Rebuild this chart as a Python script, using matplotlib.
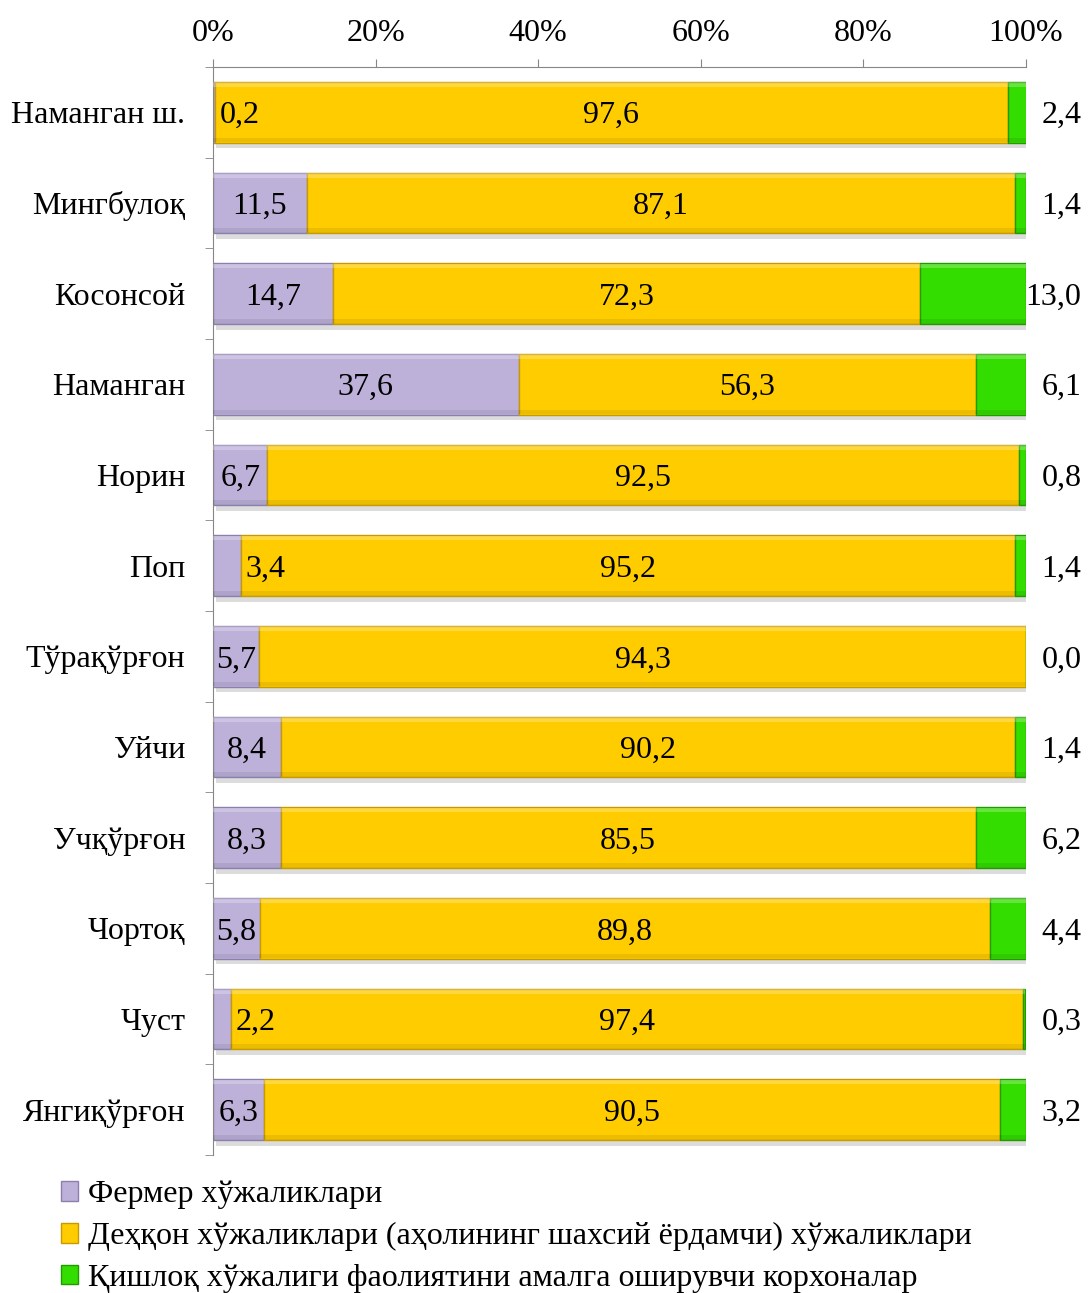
import numpy as np
import matplotlib.pyplot as plt
import matplotlib.patheffects as pe
from matplotlib.patches import Patch
from matplotlib.ticker import FixedLocator

plt.rcParams['font.family'] = ['Liberation Serif', 'DejaVu Serif']

districts = ["Наманган ш.", "Мингбулоқ", "Косонсой", "Наманган", "Норин", "Поп",
             "Тўрақўрғон", "Уйчи", "Учқўрғон", "Чортоқ", "Чуст", "Янгиқўрғон"]
fermer = [0.2, 11.5, 14.7, 37.6, 6.7, 3.4, 5.7, 8.4, 8.3, 5.8, 2.2, 6.3]
dehqon = [97.6, 87.1, 72.3, 56.3, 92.5, 95.2, 94.3, 90.2, 85.5, 89.8, 97.4, 90.5]
korxona = [2.4, 1.4, 13.0, 6.1, 0.8, 1.4, 0.0, 1.4, 6.2, 4.4, 0.3, 3.2]
legend_names = ["Фермер хўжаликлари",
                "Деҳқон хўжаликлари (аҳолининг шахсий ёрдамчи) хўжаликлари",
                "Қишлоқ хўжалиги фаолиятини амалга оширувчи корхоналар"]
colors = ["#BDB1DA", "#FFCC00", "#33DD00"]
edges = ["#8C7FAE", "#C79A00", "#229A00"]

fig = plt.figure(figsize=(10.88, 12.93), dpi=100)
ax = fig.add_axes([0.1958, 0.1067, 0.7472, 0.8415])

y = np.arange(len(districts))
h = 0.67
lefts = np.zeros(len(districts))
shadow = [pe.SimplePatchShadow(offset=(2, -4), shadow_rgbFace="0.55", alpha=0.3), pe.Normal()]
for vals, c, ec in zip([fermer, dehqon, korxona], colors, edges):
    vals = np.array(vals)
    bars = ax.barh(y, vals, left=lefts, height=h, color=c, edgecolor=ec, linewidth=1.0, zorder=2)
    for b in bars:
        b.set_path_effects(shadow)
    # bevel: light top strip, dark bottom strip
    ax.barh(y - h / 2 + 0.03, vals, left=lefts, height=0.05, color="white", alpha=0.25,
            linewidth=0, zorder=3)
    ax.barh(y + h / 2 - 0.03, vals, left=lefts, height=0.05, color="black", alpha=0.08,
            linewidth=0, zorder=3)
    lefts = lefts + vals

fs = 23
lab = lambda v: f"{v:.1f}".replace(".", ",")
for i in range(len(districts)):
    f, d, k = fermer[i], dehqon[i], korxona[i]
    if f < 4:
        ax.text(f + 0.6, y[i], lab(f), ha="left", va="center_baseline", fontsize=fs, zorder=5)
    else:
        ax.text(f / 2, y[i], lab(f), ha="center", va="center_baseline", fontsize=fs, zorder=5)
    ax.text(f + d / 2, y[i], lab(d), ha="center", va="center_baseline", fontsize=fs, zorder=5)
    ax.annotate(lab(k), xy=(100, y[i]), xytext=(40, 0), textcoords="offset points",
                ha="right", va="center_baseline", fontsize=fs, annotation_clip=False)

ax.set_xlim(0, 100)
ax.set_ylim(len(districts) - 0.5, -0.5)
ax.xaxis.tick_top()
ax.set_xticks(np.arange(0, 101, 20))
ax.set_xticklabels([f"{v}%" for v in range(0, 101, 20)], fontsize=fs)
ax.tick_params(axis="x", length=6, color="#868686", pad=8)
ax.set_yticks(y)
ax.set_yticklabels(districts, fontsize=fs, va="center_baseline")
ax.tick_params(axis="y", which="major", length=0, pad=20)
ax.yaxis.set_minor_locator(FixedLocator(np.arange(-0.5, len(districts), 1)))
ax.tick_params(axis="y", which="minor", length=6, color="#868686")
for s in ["right", "bottom"]:
    ax.spines[s].set_visible(False)
for s in ["left", "top"]:
    ax.spines[s].set_color("#868686")

handles = [Patch(facecolor=c, edgecolor=ec) for c, ec in zip(colors, edges)]
fig.legend(handles, legend_names, loc="upper left", bbox_to_anchor=(0.044, 0.097),
           frameon=False, fontsize=fs, handlelength=0.55, handleheight=0.55,
           handletextpad=0.3, labelspacing=0.4, borderaxespad=0)

fig.savefig("out.png", dpi=100)
